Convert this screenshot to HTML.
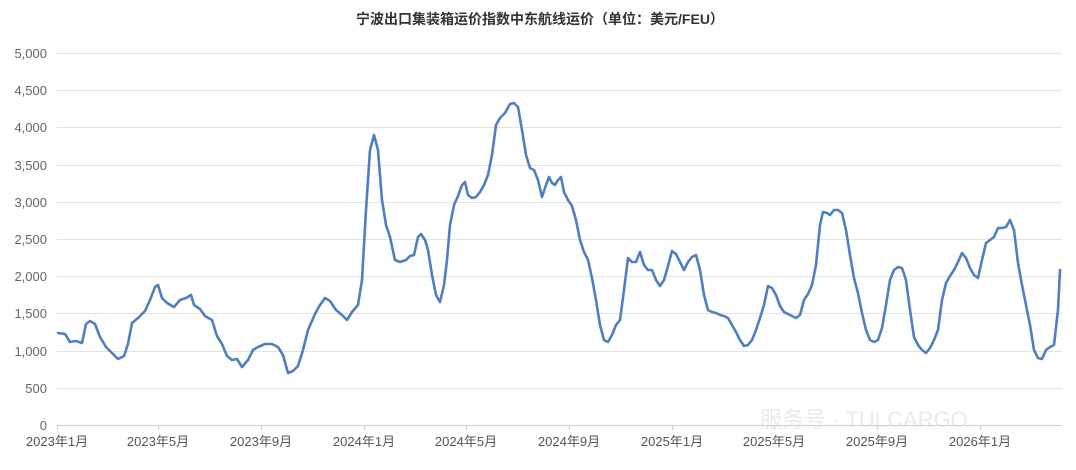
<!DOCTYPE html>
<html><head><meta charset="utf-8"><style>
body{margin:0;background:#fff;}
svg text{font-family:"Liberation Sans","Noto Sans CJK SC",sans-serif;}
</style></head><body>
<svg width="1076" height="465" viewBox="0 0 1076 465" xmlns="http://www.w3.org/2000/svg">
<rect width="1076" height="465" fill="#fff"/>
<text x="540" y="24" text-anchor="middle" font-size="14" font-weight="bold" fill="#333">宁波出口集装箱运价指数中东航线运价（单位：美元/FEU）</text>
<g stroke="#e3e3e3" stroke-width="1">
<line x1="57" x2="1062" y1="53.5" y2="53.5"/>
<line x1="57" x2="1062" y1="90.5" y2="90.5"/>
<line x1="57" x2="1062" y1="127.5" y2="127.5"/>
<line x1="57" x2="1062" y1="165.5" y2="165.5"/>
<line x1="57" x2="1062" y1="202.5" y2="202.5"/>
<line x1="57" x2="1062" y1="239.5" y2="239.5"/>
<line x1="57" x2="1062" y1="276.5" y2="276.5"/>
<line x1="57" x2="1062" y1="313.5" y2="313.5"/>
<line x1="57" x2="1062" y1="351.5" y2="351.5"/>
<line x1="57" x2="1062" y1="388.5" y2="388.5"/>
</g>
<line x1="57" x2="1062" y1="425.5" y2="425.5" stroke="#ccc"/>
<g stroke="#ccc">
<line x1="57.5" x2="57.5" y1="425" y2="430"/><line x1="158.5" x2="158.5" y1="425" y2="430"/><line x1="261.5" x2="261.5" y1="425" y2="430"/><line x1="364.5" x2="364.5" y1="425" y2="430"/><line x1="466.5" x2="466.5" y1="425" y2="430"/><line x1="569.5" x2="569.5" y1="425" y2="430"/><line x1="672.5" x2="672.5" y1="425" y2="430"/><line x1="774.5" x2="774.5" y1="425" y2="430"/><line x1="877.5" x2="877.5" y1="425" y2="430"/><line x1="980.5" x2="980.5" y1="425" y2="430"/>
</g>
<g font-size="13" fill="#666" text-anchor="end">
<text x="47" y="58">5,000</text><text x="47" y="95">4,500</text><text x="47" y="132">4,000</text><text x="47" y="170">3,500</text><text x="47" y="207">3,000</text><text x="47" y="244">2,500</text><text x="47" y="281">2,000</text><text x="47" y="318">1,500</text><text x="47" y="356">1,000</text><text x="47" y="393">500</text><text x="47" y="430">0</text>
</g>
<g font-size="13" fill="#555" text-anchor="middle">
<text x="57" y="446">2023年1月</text><text x="158" y="446">2023年5月</text><text x="261" y="446">2023年9月</text><text x="364" y="446">2024年1月</text><text x="466" y="446">2024年5月</text><text x="569" y="446">2024年9月</text><text x="672" y="446">2025年1月</text><text x="774" y="446">2025年5月</text><text x="877" y="446">2025年9月</text><text x="980" y="446">2026年1月</text>
</g>
<polyline fill="none" stroke="#4f7fbf" stroke-width="2.6" stroke-linejoin="round" stroke-linecap="round" points="58,333 65,334 70,342 76,341 82,343 86,324 90,321 95,324 100,337 106,347 112,353 118,359 124,356 128,344 132,323 138,318 145,311 150,300 155,287 158,285 162,298 167,303 174,307 180,300 186,298 191,295 194,305 200,309 205,316 212,320 217,336 222,344 227,356 232,360 237,359 242,367 248,360 253,350 258,347 265,344 272,344 278,347 283,355 288,373 293,371 298,366 303,350 308,330 315,314 320,305 325,298 330,301 336,310 342,315 347,320 352,312 358,305 362,280 366,210 370,150 374,135 378,150 382,200 386,225 390,237 395,260 400,262 406,260 410,256 414,255 418,237 421,234 425,240 428,250 432,275 436,295 440,302 444,285 447,260 450,225 454,205 458,196 462,185 465,182 468,195 472,198 476,197 480,192 484,185 488,175 492,155 496,125 500,118 505,113 510,104 514,103 518,107 522,130 526,155 530,168 534,170 538,180 542,197 546,185 549,177 552,183 555,185 558,180 561,177 564,192 568,200 572,206 576,220 580,240 584,252 588,260 592,278 596,300 600,325 604,340 608,342 612,335 616,325 620,320 624,290 628,258 632,262 636,262 640,252 644,265 648,270 652,270 656,280 660,286 664,280 668,266 672,251 676,254 680,262 684,270 688,262 692,257 696,255 700,270 704,295 708,310 712,312 716,313 720,315 724,316 728,318 732,325 736,332 740,340 744,346 748,345 752,340 756,330 760,318 764,305 768,286 772,288 776,295 780,306 784,312 788,314 792,316 796,318 800,315 804,300 808,294 812,285 816,265 820,225 823,212 827,213 830,215 834,210 838,210 842,213 846,230 850,255 854,278 858,293 862,313 866,330 870,340 874,342 878,340 882,328 886,305 890,280 894,270 898,267 902,268 906,280 910,310 914,337 918,345 922,350 926,353 930,348 934,340 938,330 942,300 946,283 950,276 954,270 958,262 962,253 966,258 970,268 974,275 978,278 982,260 986,243 990,240 994,237 998,228 1002,228 1006,227 1010,220 1014,230 1018,263 1022,285 1026,305 1030,325 1034,350 1038,358 1042,359 1046,350 1050,347 1054,345 1058,310 1060,270"/>
<text x="760" y="427" font-size="22" fill="#ddd" opacity="0.6">服务号 · TULCARGO</text>
</svg>
</body></html>
